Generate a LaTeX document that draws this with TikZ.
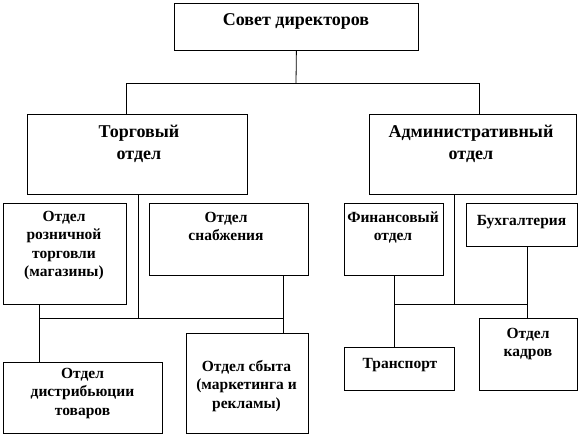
\documentclass[tikz,border=0pt]{standalone}
\usepackage{fontspec}
\setmainfont{Liberation Serif}
\begin{document}
\begin{tikzpicture}[x=1pt,y=-1pt,
  box/.style={draw,line width=0.8pt,inner sep=0pt,anchor=north west},
  bigtxt/.style={font=\bfseries\fontsize{18}{22}\selectfont,align=center,inner sep=0pt},
  smalltxt/.style={font=\bfseries\fontsize{15.5}{18.5}\selectfont,align=center,inner sep=0pt},
  conn/.style={line width=0.8pt}]
\useasboundingbox (0,0) rectangle (579,437);
% boxes
\node[box,minimum width=244pt,minimum height=47pt] (top) at (174,3) {};
\node[box,minimum width=220pt,minimum height=80pt] (torg) at (27,114) {};
\node[box,minimum width=207pt,minimum height=80pt] (adm) at (369,114) {};
\node[box,minimum width=123pt,minimum height=101pt] (retail) at (3,203) {};
\node[box,minimum width=159pt,minimum height=72pt] (snab) at (149,203) {};
\node[box,minimum width=159pt,minimum height=71pt] (distrib) at (3,362) {};
\node[box,minimum width=122pt,minimum height=100pt] (sbyt) at (186,333) {};
\node[box,minimum width=99pt,minimum height=72pt] (fin) at (344,203) {};
\node[box,minimum width=111pt,minimum height=43pt] (buh) at (466,203) {};
\node[box,minimum width=110pt,minimum height=43pt] (trans) at (344,347) {};
\node[box,minimum width=98pt,minimum height=72pt] (kadry) at (479,318) {};
% texts
\node[bigtxt] (topT) at (296,21) {Совет директоров};
\node[bigtxt] (torgT) at (139,144) {Торговый\\отдел};
\node[bigtxt] (admT) at (471,144) {Административный\\отдел};
\node[smalltxt] (retailT) at (64,245.5) {Отдел\\розничной\\торговли\\(магазины)};
\node[smalltxt] (snabT) at (226,226.5) {Отдел\\снабжения};
\node[smalltxt] (distribT) at (82.5,393.5) {Отдел\\дистрибьюции\\товаров};
\node[smalltxt] (sbytT) at (246.5,386) {Отдел сбыта\\(маркетинга и\\рекламы)};
\node[smalltxt] (finT) at (393,227.5) {Финансовый\\отдел};
\node[smalltxt] (buhT) at (521.5,222) {Бухгалтерия};
\node[smalltxt] (transT) at (400,365) {Транспорт};
\node[smalltxt] (kadryT) at (528,344) {Отдел\\кадров};
% junctions
\coordinate (j1) at (296,83);
\coordinate (jl) at (126,83);
\coordinate (jr) at (479,83);
\coordinate (b1) at (138,318);
\coordinate (b1w) at (39,318);
\coordinate (b1e) at (283,318);
\coordinate (b2) at (454,304);
\coordinate (b2w) at (394,304);
\coordinate (b2e) at (527,304);
% connectors
\draw[conn] (top.south) -- (j1);
\draw[conn] (jl) -- (jr);
\draw[conn] (jl) -- (torg.north -| jl);
\draw[conn] (jr) -- (adm.north -| jr);
\draw[conn] (torg.south -| b1) -- (b1);
\draw[conn] (b1w) -- (b1e);
\draw[conn] (retail.south -| b1w) -- (distrib.north -| b1w);
\draw[conn] (snab.south -| b1e) -- (sbyt.north -| b1e);
\draw[conn] (adm.south -| b2) -- (b2);
\draw[conn] (b2w) -- (b2e);
\draw[conn] (fin.south -| b2w) -- (trans.north -| b2w);
\draw[conn] (buh.south -| b2e) -- (kadry.north -| b2e);
\end{tikzpicture}
\end{document}
